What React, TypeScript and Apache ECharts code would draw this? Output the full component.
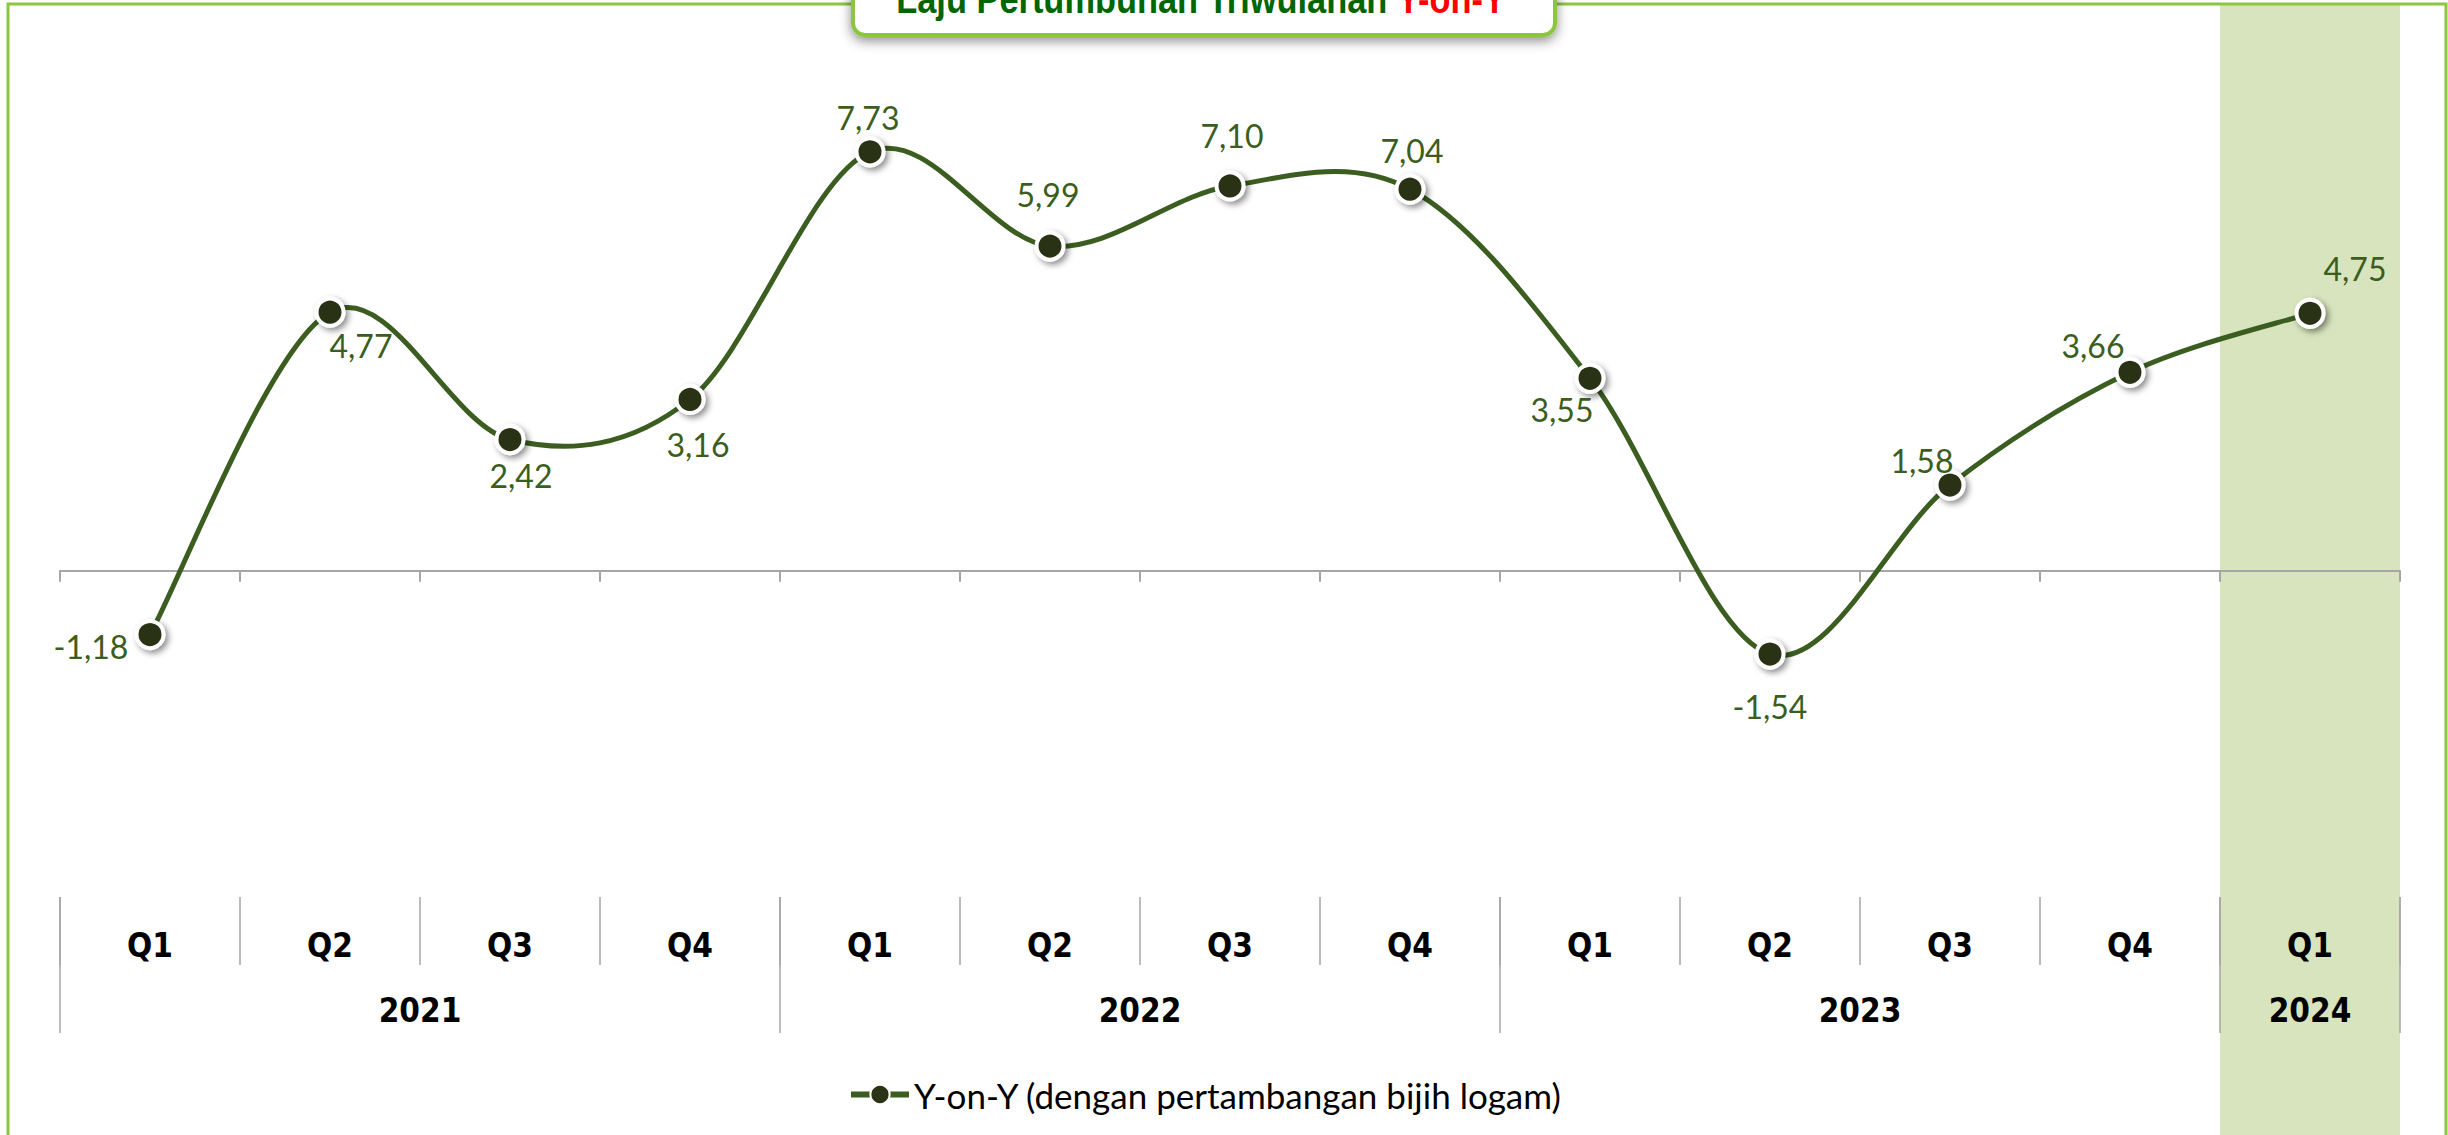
import React, { useEffect, useRef } from 'react';
import * as echarts from 'echarts';

// ---- data ----
const quarters = ['Q1', 'Q2', 'Q3', 'Q4', 'Q1', 'Q2', 'Q3', 'Q4', 'Q1', 'Q2', 'Q3', 'Q4', 'Q1'];
const years = ['2021', '2022', '2023', '2024'];
const quartersPerYear = [4, 4, 4, 1];
const yoyValues = [-1.18, 4.77, 2.42, 3.16, 7.73, 5.99, 7.1, 7.04, 3.55, -1.54, 1.58, 3.66, 4.75];
const seriesName = 'Y-on-Y (dengan pertambangan bijih logam)';
const titleMain = 'Laju Pertumbuhan Triwulanan ';
const titleAccent = 'Y-on-Y';
const highlightedPeriod = '2024 Q1';

// label placement (style only)
const labelOffsets: [number, number][] = [
  [-59, 12], [31, 33], [11, 36], [8, 45], [-2, -34], [-2, -52], [2, -50],
  [2, -39], [-28, 31], [0, 52], [-28, -25], [-37, -27], [45, -45],
];

const periodYears: string[] = years.flatMap((y, i) => Array(quartersPerYear[i]).fill(y));
const periods = quarters.map((q, i) => `${periodYears[i]} ${q}`);
const yearBounds: number[] = [0];
quartersPerYear.forEach((n) => yearBounds.push(yearBounds[yearBounds.length - 1] + n));
const yearCentres = years.map((_, i) => (yearBounds[i] + yearBounds[i + 1]) / 2);

const GREEN_LINE = '#3b5e20';
const SEP = '#a6a6a6';
const NARROW = "'Liberation Sans Narrow', 'DejaVu Sans Condensed', 'Liberation Sans', sans-serif";
const AXIS_FONT = {
  fontFamily: NARROW,
  fontWeight: 'bold' as const,
  fontSize: 33,
  color: '#000',
};

export default function App() {
  const ref = useRef<HTMLDivElement>(null);
  useEffect(() => {
    if (!ref.current) return;
    const chart = echarts.init(ref.current, undefined, { renderer: 'svg' });
    const option: any = {
      animation: false,
      backgroundColor: '#ffffff',
      legend: {
        data: [
          {
            name: seriesName,
            lineStyle: { color: GREEN_LINE, width: 6, opacity: 1 },
          },
        ],
        left: 843,
        top: 1072,
        itemWidth: 58,
        itemHeight: 24,
        itemGap: 0,
        textStyle: { fontFamily: 'Lato', fontSize: 35, color: '#000' },
      },
      grid: [
        { left: 60, right: 48, top: 83, height: 596 },
        { left: 60, right: 48, top: 897, height: 68 },
        { left: 60, right: 48, top: 897, height: 136 },
        { left: 60, right: 48, top: 5, bottom: 0 },
      ],
      xAxis: [
        {
          gridIndex: 0,
          type: 'category',
          data: periods,
          boundaryGap: true,
          z: 2,
          axisLine: { onZero: true, lineStyle: { color: SEP, width: 2 } },
          axisTick: { show: true, length: 11, lineStyle: { color: SEP, width: 2 } },
          axisLabel: { show: false },
          splitLine: { show: false },
        },
        {
          gridIndex: 1,
          type: 'category',
          data: periods,
          position: 'bottom',
          z: 2,
          axisLine: { show: false },
          axisTick: { show: true, inside: true, length: 68, lineStyle: { color: SEP, width: 1.5 } },
          axisLabel: {
            inside: true,
            margin: 20,
            verticalAlign: 'middle',
            interval: 0,
            formatter: (v: string) => v.split(' ')[1],
            ...AXIS_FONT,
          },
          splitLine: { show: false },
        },
        {
          gridIndex: 2,
          type: 'value',
          min: 0,
          max: quarters.length,
          position: 'bottom',
          z: 2,
          axisLine: { show: false },
          splitLine: { show: false },
          axisTick: {
            show: true,
            inside: true,
            length: 136,
            customValues: yearBounds,
            lineStyle: { color: SEP, width: 1.5 },
          },
          axisLabel: {
            inside: true,
            margin: 23,
            verticalAlign: 'middle',
            customValues: yearCentres,
            formatter: (v: number) => {
              const i = yearCentres.findIndex((c) => Math.abs(c - v) < 1e-6);
              return i >= 0 ? years[i] : '';
            },
            ...AXIS_FONT,
          },
        },
        { gridIndex: 3, type: 'category', data: periods, show: false, boundaryGap: true },
      ],
      yAxis: [
        { gridIndex: 0, type: 'value', min: -2, max: 9, show: false },
        { gridIndex: 1, type: 'value', show: false },
        { gridIndex: 2, type: 'value', show: false },
        { gridIndex: 3, type: 'value', min: 0, max: 1, show: false },
      ],
      series: [
        {
          type: 'bar',
          xAxisIndex: 3,
          yAxisIndex: 3,
          silent: true,
          z: 0,
          barWidth: '100%',
          data: periods.map((p) => (p === highlightedPeriod ? 1 : '-')),
          itemStyle: { color: '#d7e4bd' },
        },
        {
          // smoothed connecting curve (Catmull-Rom through the data points, via the axes' scales)
          type: 'custom',
          xAxisIndex: 0,
          yAxisIndex: 0,
          silent: true,
          z: 4,
          data: yoyValues.map((v, i) => [i, v]),
          renderItem: (params: any, api: any) => {
            if (params.dataIndex !== 0) return null;
            const pts = yoyValues.map((v, i) => api.coord([i, v]));
            let d = `M${pts[0][0]},${pts[0][1]}`;
            for (let i = 0; i < pts.length - 1; i++) {
              const p0 = pts[Math.max(0, i - 1)];
              const p1 = pts[i];
              const p2 = pts[i + 1];
              const p3 = pts[Math.min(pts.length - 1, i + 2)];
              const c1x = p1[0] + (p2[0] - p0[0]) / 6;
              const c1y = p1[1] + (p2[1] - p0[1]) / 6;
              const c2x = p2[0] - (p3[0] - p1[0]) / 6;
              const c2y = p2[1] - (p3[1] - p1[1]) / 6;
              d += ` C${c1x},${c1y} ${c2x},${c2y} ${p2[0]},${p2[1]}`;
            }
            return {
              type: 'path',
              shape: { pathData: d },
              style: { fill: 'none', stroke: GREEN_LINE, lineWidth: 5 },
            };
          },
        },
        {
          name: seriesName,
          type: 'line',
          xAxisIndex: 0,
          yAxisIndex: 0,
          z: 5,
          symbol: 'circle',
          symbolSize: 27,
          data: yoyValues.map((v, i) => ({ value: v, label: { offset: labelOffsets[i] } })),
          lineStyle: { color: GREEN_LINE, width: 5, opacity: 0 },
          itemStyle: {
            color: '#2a3316',
            borderColor: '#ffffff',
            borderWidth: 4,
            shadowBlur: 6,
            shadowColor: 'rgba(0,0,0,0.45)',
            shadowOffsetX: 3,
            shadowOffsetY: 3,
          },
          label: {
            show: true,
            position: 'inside',
            formatter: (p: any) => Number(p.value).toFixed(2).replace('.', ','),
            fontFamily: 'Lato',
            fontSize: 32,
            color: GREEN_LINE,
          },
        },
      ],
      graphic: [
        {
          type: 'rect',
          z: 1,
          silent: true,
          shape: { x: 8, y: 4, width: 2438, height: 1200 },
          style: { fill: 'none', stroke: '#8cc63f', lineWidth: 3 },
        },
        {
          type: 'rect',
          z: 100,
          silent: true,
          shape: { x: 853, y: -40, width: 702, height: 75, r: 12 },
          style: {
            fill: '#ffffff',
            stroke: '#8cc63f',
            lineWidth: 4,
            shadowBlur: 12,
            shadowColor: 'rgba(0,0,0,0.45)',
            shadowOffsetY: 4,
          },
        },
        {
          type: 'text',
          z: 101,
          silent: true,
          x: 1201,
          y: -1,
          scaleX: 0.86,
          style: {
            text: `{g|${titleMain}}{r|${titleAccent}}`,
            align: 'center',
            verticalAlign: 'middle',
            rich: {
              g: { fontFamily: 'Liberation Sans', fontWeight: 'bold', fontSize: 40, fill: '#006600', color: '#006600' },
              r: { fontFamily: 'Liberation Sans', fontWeight: 'bold', fontSize: 40, fill: '#ff0000', color: '#ff0000' },
            },
          },
        },
      ],
    };
    chart.setOption(option);
    return () => chart.dispose();
  }, []);
  return (
    <div
      ref={ref}
      style={{ position: 'absolute', left: 0, top: 0, width: 2448, height: 1135 }}
    />
  );
}
